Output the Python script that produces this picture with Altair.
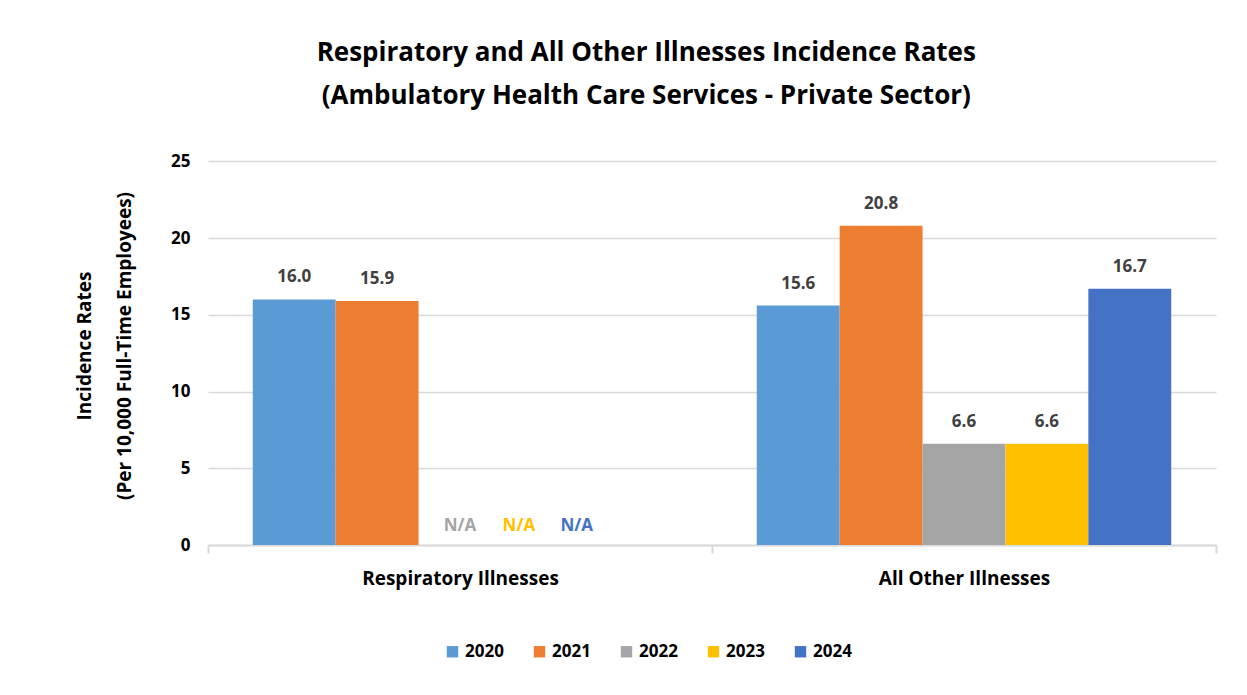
import altair as alt
import pandas as pd

categories = ["Respiratory Illnesses", "All Other Illnesses"]
years = ["2020", "2021", "2022", "2023", "2024"]
respiratory = [16.0, 15.9, None, None, None]
all_other = [15.6, 20.8, 6.6, 6.6, 16.7]
colors = ["#5B9BD5", "#ED7D31", "#A5A5A5", "#FFC000", "#4472C4"]
na_shift = {"2022": 0, "2023": -24, "2024": -49}

rows = []
for cat, vals in zip(categories, [respiratory, all_other]):
    for y, v in zip(years, vals):
        rows.append({"category": cat, "year": y, "value": v,
                     "label": (f"{v:.1f}" if v is not None else "N/A")})
df = pd.DataFrame(rows)

FONT = "Open Sans"

x = alt.X("category:N", sort=categories, title=None,
          scale=alt.Scale(paddingInner=0, paddingOuter=0),
          axis=alt.Axis(labelFontSize=19, labelFontWeight="bold", labelColor="#000000",
                        labelFont=FONT, ticks=True, tickBand="extent", tickSize=8,
                        tickColor="#D9D9D9", tickWidth=2, domainColor="#D9D9D9", domainWidth=2,
                        labelPadding=16, labelAngle=0, labelLimit=0))
xo = alt.XOffset("year:N", sort=years, scale=alt.Scale(paddingOuter=0.54, paddingInner=0))
color_scale = alt.Scale(domain=years, range=colors)
color = alt.Color("year:N", sort=years, scale=color_scale,
                  legend=alt.Legend(title=None, orient="none", direction="horizontal",
                                    legendX=236, legendY=497,
                                    symbolType="square", symbolSize=130, symbolStrokeWidth=0,
                                    labelFontSize=17, labelFontWeight="bold", labelFont=FONT,
                                    labelColor="#000000", columnPadding=27, labelOffset=4))

base = alt.Chart(df)

bars = base.mark_bar().encode(
    x=x, xOffset=xo,
    y=alt.Y("value:Q", scale=alt.Scale(domain=[0, 25]),
            title=["Incidence Rates", "(Per 10,000 Full-Time Employees)"],
            axis=alt.Axis(values=[0, 5, 10, 15, 20, 25], labelFontSize=17,
                          labelFontWeight="bold", labelColor="#000000", labelFont=FONT,
                          titleFont=FONT, titleFontSize=19, titleFontWeight="bold",
                          titleColor="#000000", titlePadding=36, titleLineHeight=40,
                          labelPadding=18,
                          domain=False, ticks=False, gridColor="#D9D9D9", gridWidth=1.5)),
    color=color,
)

vals = base.transform_filter("datum.value != null").mark_text(
    baseline="bottom", dy=-13, fontSize=17, fontWeight="bold", font=FONT, color="#404040"
).encode(x=x, xOffset=xo, y="value:Q", text="label:N")

na_layers = []
for yr, shift in na_shift.items():
    na_layers.append(
        base.transform_filter(f"datum.value == null && datum.year == '{yr}'").mark_text(
            baseline="bottom", dy=-10, dx=shift, fontSize=17, fontWeight="bold", font=FONT
        ).encode(x=x, xOffset=xo, y=alt.datum(0),
                 color=alt.Color("year:N", sort=years, scale=color_scale, legend=None),
                 text="label:N")
    )

chart = alt.layer(bars, vals, *na_layers).properties(
    width=1231, height=684,
    autosize=alt.AutoSizeParams(type="fit", contains="padding"),
    padding={"left": 67, "top": 32, "right": 22, "bottom": 104},
    title=alt.Title(["Respiratory and All Other Illnesses Incidence Rates",
                     "(Ambulatory Health Care Services - Private Sector)"],
                    fontSize=26, font=FONT, fontWeight="bold", color="#000000",
                    lineHeight=43, offset=37, anchor="middle", frame="bounds"),
).configure_view(stroke=None)

chart.save("out.html", embed_options={"renderer": "svg", "actions": False})
